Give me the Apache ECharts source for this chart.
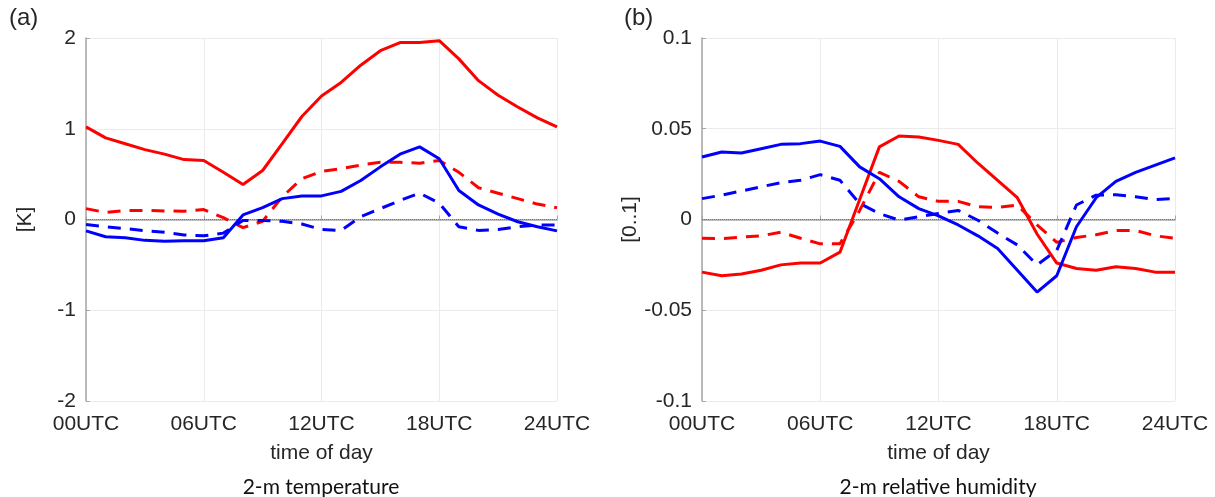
<!DOCTYPE html>
<html>
<head>
<meta charset="utf-8">
<script src="https://cdn.jsdelivr.net/npm/echarts@6/dist/echarts.min.js"></script>
<style>
  html, body { margin: 0; padding: 0; background: #fff; }
  #chart { width: 1215px; height: 497px; }
</style>
</head>
<body>
<div id="chart"></div>
<script>
// hours 0..24
const hours = [0,1,2,3,4,5,6,7,8,9,10,11,12,13,14,15,16,17,18,19,20,21,22,23,24];
const hourTicks = ['00UTC', '06UTC', '12UTC', '18UTC', '24UTC'];

// (a) 2-m temperature [K]
const tempRedSolid = [1.02,0.90,0.835,0.77,0.72,0.66,0.65,0.52,0.385,0.54,0.835,1.135,1.36,1.51,1.70,1.86,1.95,1.95,1.97,1.77,1.53,1.37,1.24,1.12,1.02];
const tempRedDash = [0.12,0.077,0.10,0.10,0.095,0.09,0.11,0.02,-0.09,-0.02,0.25,0.45,0.53,0.56,0.60,0.63,0.63,0.62,0.65,0.52,0.35,0.29,0.23,0.17,0.13];
const tempBlueSolid = [-0.125,-0.19,-0.2,-0.23,-0.24,-0.235,-0.235,-0.2,0.05,0.13,0.23,0.26,0.26,0.31,0.43,0.58,0.72,0.80,0.67,0.32,0.16,0.06,-0.025,-0.08,-0.125];
const tempBlueDash = [-0.055,-0.08,-0.10,-0.125,-0.14,-0.17,-0.18,-0.15,-0.01,-0.01,-0.02,-0.05,-0.11,-0.12,0.03,0.12,0.21,0.29,0.18,-0.08,-0.12,-0.11,-0.08,-0.06,-0.06];

// (b) 2-m relative humidity [0..1]
const rhRedSolid = [-0.029,-0.031,-0.030,-0.028,-0.025,-0.024,-0.024,-0.018,0.011,0.040,0.046,0.0454,0.0436,0.0414,0.031,0.0216,0.012,-0.008,-0.024,-0.027,-0.028,-0.026,-0.027,-0.029,-0.029];
const rhRedDash = [-0.0103,-0.0106,-0.0097,-0.009,-0.007,-0.0103,-0.0134,-0.0134,0.005,0.026,0.021,0.0125,0.010,0.010,0.007,0.0066,0.008,-0.003,-0.0126,-0.0099,-0.0084,-0.006,-0.006,-0.009,-0.0103];
const rhBlueSolid = [0.0344,0.0372,0.0366,0.039,0.0414,0.0418,0.0432,0.0403,0.029,0.0225,0.0125,0.006,0.002,-0.003,-0.009,-0.016,-0.028,-0.040,-0.031,-0.004,0.012,0.021,0.026,0.030,0.034];
const rhBlueDash = [0.0115,0.0134,0.0157,0.018,0.0203,0.0216,0.0247,0.0216,0.0088,0.0033,-0.0004,0.0015,0.0033,0.005,-0.0004,-0.0075,-0.014,-0.025,-0.017,0.008,0.0134,0.0137,0.0125,0.011,0.0115];

const chart = echarts.init(document.getElementById('chart'));

const txt = '#262626';
const labelFont = { color: txt, fontSize: 21, fontFamily: 'Liberation Sans' };

function xAx(grid) {
  return {
    type: 'value', gridIndex: grid, min: 0, max: 24, interval: 6,
    name: 'time of day', nameLocation: 'middle', nameGap: 42,
    nameTextStyle: labelFont,
    axisLine: { lineStyle: { color: '#a6a6a6', width: 1.5 } },
    axisTick: { inside: true, length: 4, lineStyle: { color: '#a6a6a6' } },
    axisLabel: Object.assign({ margin: 13, formatter: v => hourTicks[v / 6] }, labelFont),
    splitLine: { show: true, lineStyle: { color: '#ebebeb', width: 1 } }
  };
}
function yAx(grid, min, max, interval, name, fmt) {
  return {
    type: 'value', gridIndex: grid, min: min, max: max, interval: interval,
    name: name, nameLocation: 'middle', nameGap: 50, nameRotate: 90,
    nameTextStyle: labelFont,
    axisLine: { show: true, lineStyle: { color: '#a6a6a6', width: 1.5 } },
    axisTick: { show: true, inside: true, length: 4, lineStyle: { color: '#a6a6a6' } },
    axisLabel: Object.assign({ margin: 10, formatter: fmt }, labelFont),
    splitLine: { show: true, lineStyle: { color: '#ebebeb', width: 1 } }
  };
}
function ser(grid, data, color, dashed, zero) {
  const s = {
    type: 'line', xAxisIndex: grid, yAxisIndex: grid,
    data: hours.map((h, i) => [h, data[i]]),
    showSymbol: false, symbol: 'none', animation: false,
    lineStyle: { color: color, width: 3, type: dashed ? [13, 9] : 'solid' }
  };
  if (zero) {
    s.markLine = {
      silent: true, symbol: 'none', label: { show: false },
      lineStyle: { color: '#666', width: 0.8, type: [1, 1] },
      data: [{ yAxis: 0 }], z: 1
    };
  }
  return s;
}

const option = {
  backgroundColor: '#fff',
  animation: false,
  grid: [
    { left: 86, right: 658, top: 38, bottom: 96 },
    { left: 702, right: 40, top: 38, bottom: 96 }
  ],
  xAxis: [xAx(0), xAx(1)],
  yAxis: [
    yAx(0, -2, 2, 1, '[K]', v => String(v)),
    yAx(1, -0.1, 0.1, 0.05, '[0..1]', v => String(Math.round(v * 100) / 100))
  ],
  graphic: [
    { type: 'text', left: 9, top: 6, style: { text: '(a)', fill: txt, font: '24px Liberation Sans' } },
    { type: 'text', left: 624, top: 6, style: { text: '(b)', fill: txt, font: '24px Liberation Sans' } },
    { type: 'text', x: 321, y: 487, style: { text: '2-m temperature', fill: '#111', font: '21px Lato', align: 'center', verticalAlign: 'middle' } },
    { type: 'text', x: 938, y: 487, style: { text: '2-m relative humidity', fill: '#111', font: '21px Lato', align: 'center', verticalAlign: 'middle' } }
  ],
  series: [
    ser(0, tempRedSolid, '#ff0000', false, true),
    ser(0, tempRedDash, '#ff0000', true),
    ser(0, tempBlueSolid, '#0000ff', false),
    ser(0, tempBlueDash, '#0000ff', true),
    ser(1, rhRedSolid, '#ff0000', false, true),
    ser(1, rhRedDash, '#ff0000', true),
    ser(1, rhBlueSolid, '#0000ff', false),
    ser(1, rhBlueDash, '#0000ff', true)
  ]
};

chart.setOption(option);
</script>
</body>
</html>
